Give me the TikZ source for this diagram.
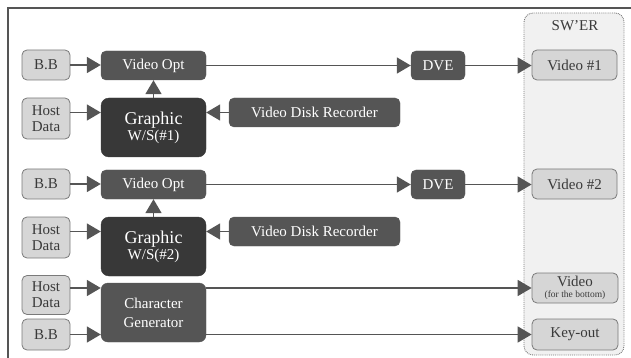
\documentclass[tikz,border=0pt]{standalone}
\usepackage{fontspec}
\setmainfont{Liberation Serif}
\usetikzlibrary{arrows.meta}
\definecolor{darkbox}{HTML}{555555}
\definecolor{darkerbox}{HTML}{383838}
\definecolor{lightbox}{HTML}{D6D6D6}
\definecolor{lightborder}{HTML}{7A7A7A}
\definecolor{swfill}{HTML}{F1F1F1}
\definecolor{linegray}{HTML}{555555}
\definecolor{txtgray}{HTML}{3A3A3A}
\tikzset{
  base/.style={rounded corners=5pt, inner sep=0pt, align=center, font=\fontsize{15}{15}\selectfont},
  dk/.style={base, fill=darkbox, draw=darkbox, text=white},
  dkr/.style={base, fill=darkerbox, draw=darkerbox, text=white, rounded corners=8pt},
  lt/.style={base, fill=lightbox, draw=lightborder, line width=0.8pt, text=txtgray},
  arr/.style={draw=linegray, line width=1.7pt, -{Triangle[length=14pt,width=16pt]}, color=linegray},
  ln/.style={draw=linegray, line width=1.7pt}
}
\begin{document}
\begin{tikzpicture}[x=1pt,y=-1pt]
\useasboundingbox (0,0) rectangle (631,358);
\begin{scope}
\clip (0,0) rectangle (631,358);
\draw[line width=1.2pt, color=linegray] (8,370) -- (8,8) -- (640,8);
\end{scope}
% switcher container
\node[draw=lightborder, densely dotted, fill=swfill, rounded corners=9pt, line width=0.9pt,
  minimum width=100pt, minimum height=342pt, inner sep=0pt] (sw) at (574,184) {};
\node[font=\fontsize{15}{15}\selectfont, text=txtgray, inner sep=0pt] (swl) at (575,26) {SW'ER};
% row 1
\node[lt, minimum width=48pt, minimum height=30pt] (bb1) at (46,65) {B.B};
\node[dk, minimum width=105pt, minimum height=29pt] (vo1) at (153.5,65.5) {Video Opt};
\node[lt, minimum width=48pt, minimum height=41pt, font=\fontsize{15}{16}\selectfont] (hd1) at (46,118.5) {Host\\Data};
\node[dkr, minimum width=105pt, minimum height=59pt] (gw1) at (153.5,127.5) {{\fontsize{18}{20}\selectfont Graphic}\\[1pt]W/S(\#1)};
\node[dk, minimum width=171pt, minimum height=29pt] (vdr1) at (314.5,112.5) {Video Disk Recorder};
\node[dk, minimum width=54pt, minimum height=29pt] (dve1) at (438,65.5) {DVE};
\node[lt, minimum width=85pt, minimum height=30pt] (v1) at (574.5,65) {Video \#1};
% row 2
\node[lt, minimum width=48pt, minimum height=30pt] (bb2) at (46,184) {B.B};
\node[dk, minimum width=105pt, minimum height=29pt] (vo2) at (153.5,184.5) {Video Opt};
\node[lt, minimum width=48pt, minimum height=41pt, font=\fontsize{15}{16}\selectfont] (hd2) at (46,237.5) {Host\\Data};
\node[dkr, minimum width=105pt, minimum height=59pt] (gw2) at (153.5,246.5) {{\fontsize{18}{20}\selectfont Graphic}\\[1pt]W/S(\#2)};
\node[dk, minimum width=171pt, minimum height=29pt] (vdr2) at (314.5,231.5) {Video Disk Recorder};
\node[dk, minimum width=54pt, minimum height=29pt] (dve2) at (438,184.5) {DVE};
\node[lt, minimum width=85pt, minimum height=30pt] (v2) at (574.5,184) {Video \#2};
% row 3
\node[lt, minimum width=48pt, minimum height=39pt, font=\fontsize{15}{16}\selectfont] (hd3) at (46,295) {Host\\Data};
\node[dk, minimum width=105pt, minimum height=59pt, rounded corners=7pt, font=\fontsize{15}{19}\selectfont] (cg) at (153.5,312.5) {Character\\Generator};
\node[lt, minimum width=48pt, minimum height=31pt] (bb3) at (46,334.5) {B.B};
\node[lt, minimum width=86pt, minimum height=30pt, font=\fontsize{15}{12}\selectfont] (vb) at (575,288) {Video\\[-1pt]{\fontsize{9.5}{10}\selectfont (for the bottom)}};
\node[lt, minimum width=86pt, minimum height=31pt] (ko) at (575,334.5) {Key-out};
% connectors row 1
\draw[arr] (bb1.east) -- (vo1.west |- bb1);
\draw[arr] (vo1.east) -- (dve1.west);
\draw[arr] (dve1.east) -- (v1.west |- dve1);
\draw[arr] (gw1.north) -- (vo1.south);
\draw[arr] (hd1.east |- vdr1) -- (gw1.west |- vdr1);
\draw[arr] (vdr1.west) -- (gw1.east |- vdr1);
% connectors row 2
\draw[arr] (bb2.east) -- (vo2.west |- bb2);
\draw[arr] (vo2.east) -- (dve2.west);
\draw[arr] (dve2.east) -- (v2.west |- dve2);
\draw[arr] (gw2.north) -- (vo2.south);
\draw[arr] (hd2.east |- vdr2) -- (gw2.west |- vdr2);
\draw[arr] (vdr2.west) -- (gw2.east |- vdr2);
% connectors row 3
\draw[arr] (hd3.east |- vb) -- (cg.west |- vb);
\draw[arr] (bb3.east) -- (cg.west |- bb3);
\draw[arr] (cg.east |- vb) -- (vb.west);
\draw[arr] (cg.east |- ko) -- (ko.west);
\end{tikzpicture}
\end{document}
